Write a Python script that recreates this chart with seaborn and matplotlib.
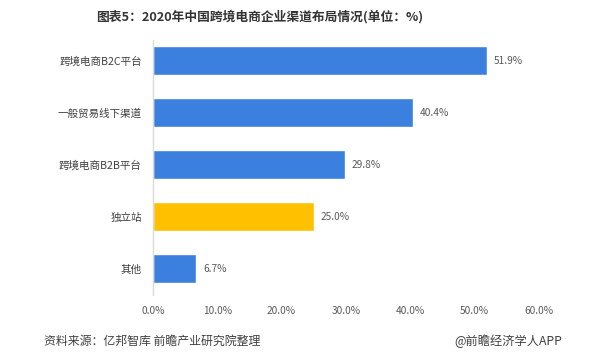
import matplotlib
matplotlib.use('Agg')
import matplotlib.pyplot as plt
import seaborn as sns
import pandas as pd

#data
channels = ['跨境电商B2C平台', '一般贸易线下渠道', '跨境电商B2B平台', '独立站', '其他']
shares = [51.9, 40.4, 29.8, 25.0, 6.7]
x_ticks = [0, 10, 20, 30, 40, 50, 60]

#colours
Blue = '#3B80DE'
Gold = '#FFC000'
Grey = '#595959'

sns.set_style('white')
plt.rcParams['font.family'] = ['Noto Sans CJK SC', 'DejaVu Sans']

df = pd.DataFrame({'channel': channels, 'share': shares})
df['kind'] = ['gold' if c == '独立站' else 'blue' for c in channels]

fig = plt.figure(figsize=(6.02, 3.61), dpi=100)
ax = fig.add_axes([0.254, 0.183, 0.641, 0.706])

sns.barplot(data=df, x='share', y='channel', hue='kind',
            palette={'blue': Blue, 'gold': Gold}, width=0.56,
            saturation=1, legend=False, ax=ax)

for i, v in enumerate(shares):
    ax.text(v + 1.1, i, f'{v:.1f}%', va='center', ha='left',
            fontsize=7.3, color=Grey)

ax.set_xlim(0, 60)
ax.set_ylim(4.5, -0.4)
ax.set_xticks(x_ticks)
ax.set_xticklabels([f'{t:.1f}%' for t in x_ticks])
ax.set_xlabel('')
ax.set_ylabel('')
ax.tick_params(axis='x', length=0, labelsize=7.3, colors=Grey, pad=8)
ax.tick_params(axis='y', length=0, labelsize=7.6, colors='#404040', pad=8)

for s in ['top', 'right', 'bottom']:
    ax.spines[s].set_visible(False)
ax.spines['left'].set_color('#D9D9D9')
ax.spines['left'].set_linewidth(1)

fig.text(0.432, 0.953, '图表5：2020年中国跨境电商企业渠道布局情况(单位：%)',
         ha='center', va='center', fontsize=9.2, weight='bold', color='#333333')
fig.text(0.073, 0.055, '资料来源：亿邦智库 前瞻产业研究院整理',
         ha='left', va='center', fontsize=8.6, color='#404040')
fig.text(0.934, 0.055, '@前瞻经济学人APP',
         ha='right', va='center', fontsize=8.8, color='#404040')

fig.savefig('out.png', dpi=100)
